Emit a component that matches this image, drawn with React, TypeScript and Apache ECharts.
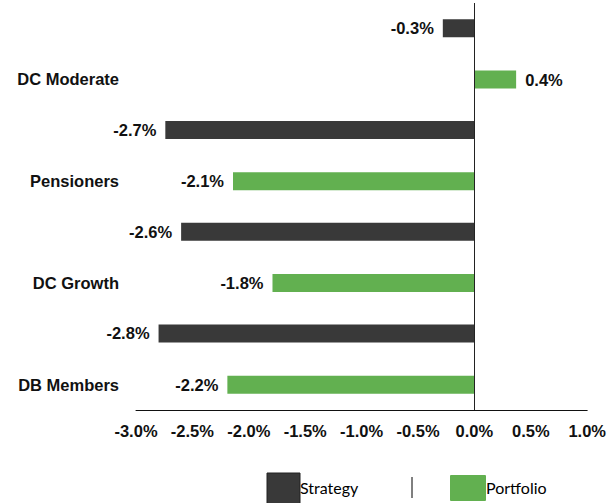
import React, { useEffect, useRef } from "react";
import * as echarts from "echarts";

const categories = ["DC Moderate", "Pensioners", "DC Growth", "DB Members"];
const strategyValues = [-0.28, -2.74, -2.6, -2.8];
const portfolioValues = [0.37, -2.14, -1.79, -2.19];
const xTicks = { min: -3, max: 1, interval: 0.5 };
const seriesNames = ["Strategy", "Portfolio"];

const DARK = "#393939";
const GREEN = "#62b050";
const FONT = "Liberation Sans, Arial, sans-serif";
const FS = 16.5;

export default function App() {
  const ref = useRef<HTMLDivElement>(null);
  useEffect(() => {
    if (!ref.current) return;
    const chart = echarts.init(ref.current, null, { renderer: "svg" });
    const barLabel = (v: number) => ({
      value: v,
      label: {
        show: true,
        position: v < 0 ? "left" : "right",
        distance: 9,
        formatter: (p: any) => Number(p.value).toFixed(1) + "%",
        fontFamily: FONT,
        fontWeight: "bold",
        fontSize: FS,
        color: "#111",
      },
    });
    chart.setOption({
      animation: false,
      backgroundColor: "#fff",
      grid: { left: 136, right: 20.5, top: 3, bottom: 93, containLabel: false },
      xAxis: {
        type: "value",
        min: xTicks.min,
        max: xTicks.max,
        interval: xTicks.interval,
        axisLine: { show: true, onZero: false, lineStyle: { color: "#111", width: 1 } },
        axisTick: { show: false },
        splitLine: { show: false },
        axisLabel: {
          margin: 12,
          formatter: (v: number) => v.toFixed(1) + "%",
          fontFamily: FONT,
          fontWeight: "bold",
          fontSize: FS,
          color: "#111",
        },
      },
      yAxis: {
        type: "category",
        data: categories,
        inverse: true,
        axisLine: { show: false },
        axisTick: { show: false },
        axisLabel: {
          margin: 17,
          verticalAlign: "top",
          padding: [17, 0, 0, 0],
          fontFamily: FONT,
          fontWeight: "bold",
          fontSize: FS,
          color: "#111",
        },
      },
      series: [
        {
          name: seriesNames[0],
          type: "bar",
          barWidth: 18,
          barGap: "185%",
          itemStyle: { color: DARK },
          data: strategyValues.map(barLabel),
          markLine: {
            silent: true,
            symbol: "none",
            label: { show: false },
            lineStyle: { color: "#222", width: 1, type: "solid" },
            data: [{ xAxis: 0 }],
          },
        },
        {
          name: seriesNames[1],
          type: "bar",
          barWidth: 18,
          itemStyle: { color: GREEN },
          data: portfolioValues.map(barLabel),
        },
      ],
      graphic: [
        {
          type: "rect",
          shape: { x: 267, y: 473, width: 33, height: 32 },
          style: { fill: DARK, stroke: "#222", lineWidth: 1 },
        },
        {
          type: "text",
          x: 300,
          y: 487,
          style: {
            text: seriesNames[0],
            fontFamily: "Lato, Open Sans, sans-serif",
            fontSize: 16,
            fill: "#000",
            verticalAlign: "middle",
          },
        },
        {
          type: "line",
          shape: { x1: 412, y1: 477, x2: 412, y2: 498 },
          style: { stroke: "#000", lineWidth: 1 },
        },
        {
          type: "rect",
          shape: { x: 450, y: 475, width: 36, height: 26, r: 1 },
          style: { fill: GREEN },
        },
        {
          type: "text",
          x: 486,
          y: 487,
          style: {
            text: seriesNames[1],
            fontFamily: "Lato, Open Sans, sans-serif",
            fontSize: 16,
            fill: "#000",
            verticalAlign: "middle",
          },
        },
      ],
    });
    return () => chart.dispose();
  }, []);
  return <div ref={ref} style={{ width: 609, height: 503, position: "fixed", left: 0, top: 0 }} />;
}
